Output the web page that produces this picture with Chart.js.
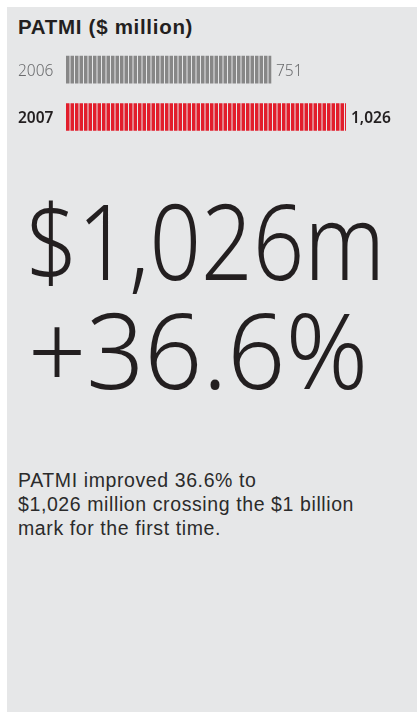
<!DOCTYPE html>
<html lang="en">
<head>
    <meta charset="UTF-8">
    <title>PATMI ($ million)</title>
    <script src="https://cdn.jsdelivr.net/npm/chart.js"></script>
    <style>
        body {
            margin: 0;
            background: #ffffff;
            font-family: 'Liberation Sans', Arial, sans-serif;
        }
        .painel {
            position: absolute;
            left: 7px;
            top: 7px;
            width: 410px;
            height: 705px;
            background: #e6e7e8;
        }
        .titulo {
            position: absolute;
            left: 18px;
            top: 17px;
            margin: 0;
            font-size: 20.5px;
            line-height: 20px;
            font-weight: bold;
            color: #231f20;
            letter-spacing: 0.7px;
        }
        .grafico {
            position: absolute;
            left: 0;
            top: 0;
            width: 417px;
            height: 150px;
        }
        .destaque {
            position: absolute;
            left: 26px;
            margin: 0;
            font-family: 'Noto Sans', sans-serif;
            font-weight: 260;
            font-size: 105px;
            line-height: 105px;
            color: #231f20;
            white-space: nowrap;
            transform-origin: left top;
        }
        .texto {
            position: absolute;
            left: 18px;
            top: 468px;
            margin: 0;
            font-size: 19.5px;
            line-height: 24px;
            color: #2b2b2b;
            letter-spacing: 0.6px;
        }
    </style>
</head>
<body>
    <div class="painel"></div>
    <h1 class="titulo">PATMI ($ million)</h1>

    <div class="grafico">
        <canvas id="graficoBarras"></canvas>
    </div>

    <p class="destaque" id="valor" style="top:187px; transform:scaleX(0.86);"></p>
    <p class="destaque" id="variacao" style="top:296px; left:28px; transform:scaleX(0.97);"></p>

    <p class="texto">PATMI improved 36.6% to<br>$1,026 million crossing the $1 billion<br>mark for the first time.</p>

    <script>
        // dados do gráfico
        const anos = ['2006', '2007'];
        const patmi = [751, 1026];
        const rotulos = ['751', '1,026'];
        const coresBarra = ['#878787', '#e21d2b'];
        const coresTexto = ['#6a6b6d', '#231f20'];

        const valorAtual = patmi[patmi.length - 1];
        const crescimento = ((patmi[1] - patmi[0]) / patmi[0] * 100).toFixed(1);

        document.getElementById('valor').textContent = '$' + valorAtual.toLocaleString('en-US') + 'm';
        document.getElementById('variacao').textContent = '+' + crescimento + '%';

        // listras verticais: 2 listras por bloco de 9px
        function criarListras(cor) {
            const c = document.createElement('canvas');
            c.width = 9;
            c.height = 4;
            const g = c.getContext('2d');
            g.fillStyle = '#e6e7e8';
            g.fillRect(0, 0, 9, 4);
            g.fillStyle = cor;
            g.fillRect(0, 0, 2, 4);
            g.fillRect(3, 0, 3.5, 4);
            g.fillRect(7.5, 0, 1.5, 4);
            return g.createPattern(c, 'repeat');
        }

        // números ao lado das barras
        const rotuloValor = {
            id: 'rotuloValor',
            afterDatasetsDraw(chart) {
                const ctx = chart.ctx;
                const meta = chart.getDatasetMeta(0);
                ctx.save();
                ctx.textBaseline = 'middle';
                ctx.textAlign = 'left';
                meta.data.forEach((barra, i) => {
                    ctx.fillStyle = coresTexto[i];
                    ctx.font = (i === 1 ? '600 ' : '300 ') + '15.5px "Noto Sans"';
                    ctx.fillText(rotulos[i], barra.x + 5, barra.y + 2);
                });
                ctx.restore();
            }
        };

        const ctx = document.getElementById('graficoBarras').getContext('2d');

        new Chart(ctx, {
            type: 'bar',
            data: {
                labels: anos,
                datasets: [{
                    data: patmi,
                    backgroundColor: coresBarra.map(criarListras),
                    borderWidth: 0,
                    barThickness: 27
                }]
            },
            options: {
                indexAxis: 'y',
                responsive: true,
                maintainAspectRatio: false,
                animation: false,
                layout: {
                    padding: { left: 18, right: 71, top: 46, bottom: 6 }
                },
                plugins: {
                    legend: { display: false },
                    tooltip: { enabled: false }
                },
                scales: {
                    x: {
                        display: false,
                        min: 0,
                        max: Math.max(...patmi)
                    },
                    y: {
                        grid: { display: false },
                        border: { display: false },
                        afterFit: (scale) => { scale.width = 48; },
                        ticks: {
                            crossAlign: 'far',
                            padding: 0,
                            labelOffset: 2,
                            color: (c) => coresTexto[c.index],
                            font: (c) => ({
                                family: 'Noto Sans',
                                size: 15.5,
                                weight: c.index === 1 ? 600 : 300
                            })
                        }
                    }
                }
            },
            plugins: [rotuloValor]
        });
    </script>
</body>
</html>
